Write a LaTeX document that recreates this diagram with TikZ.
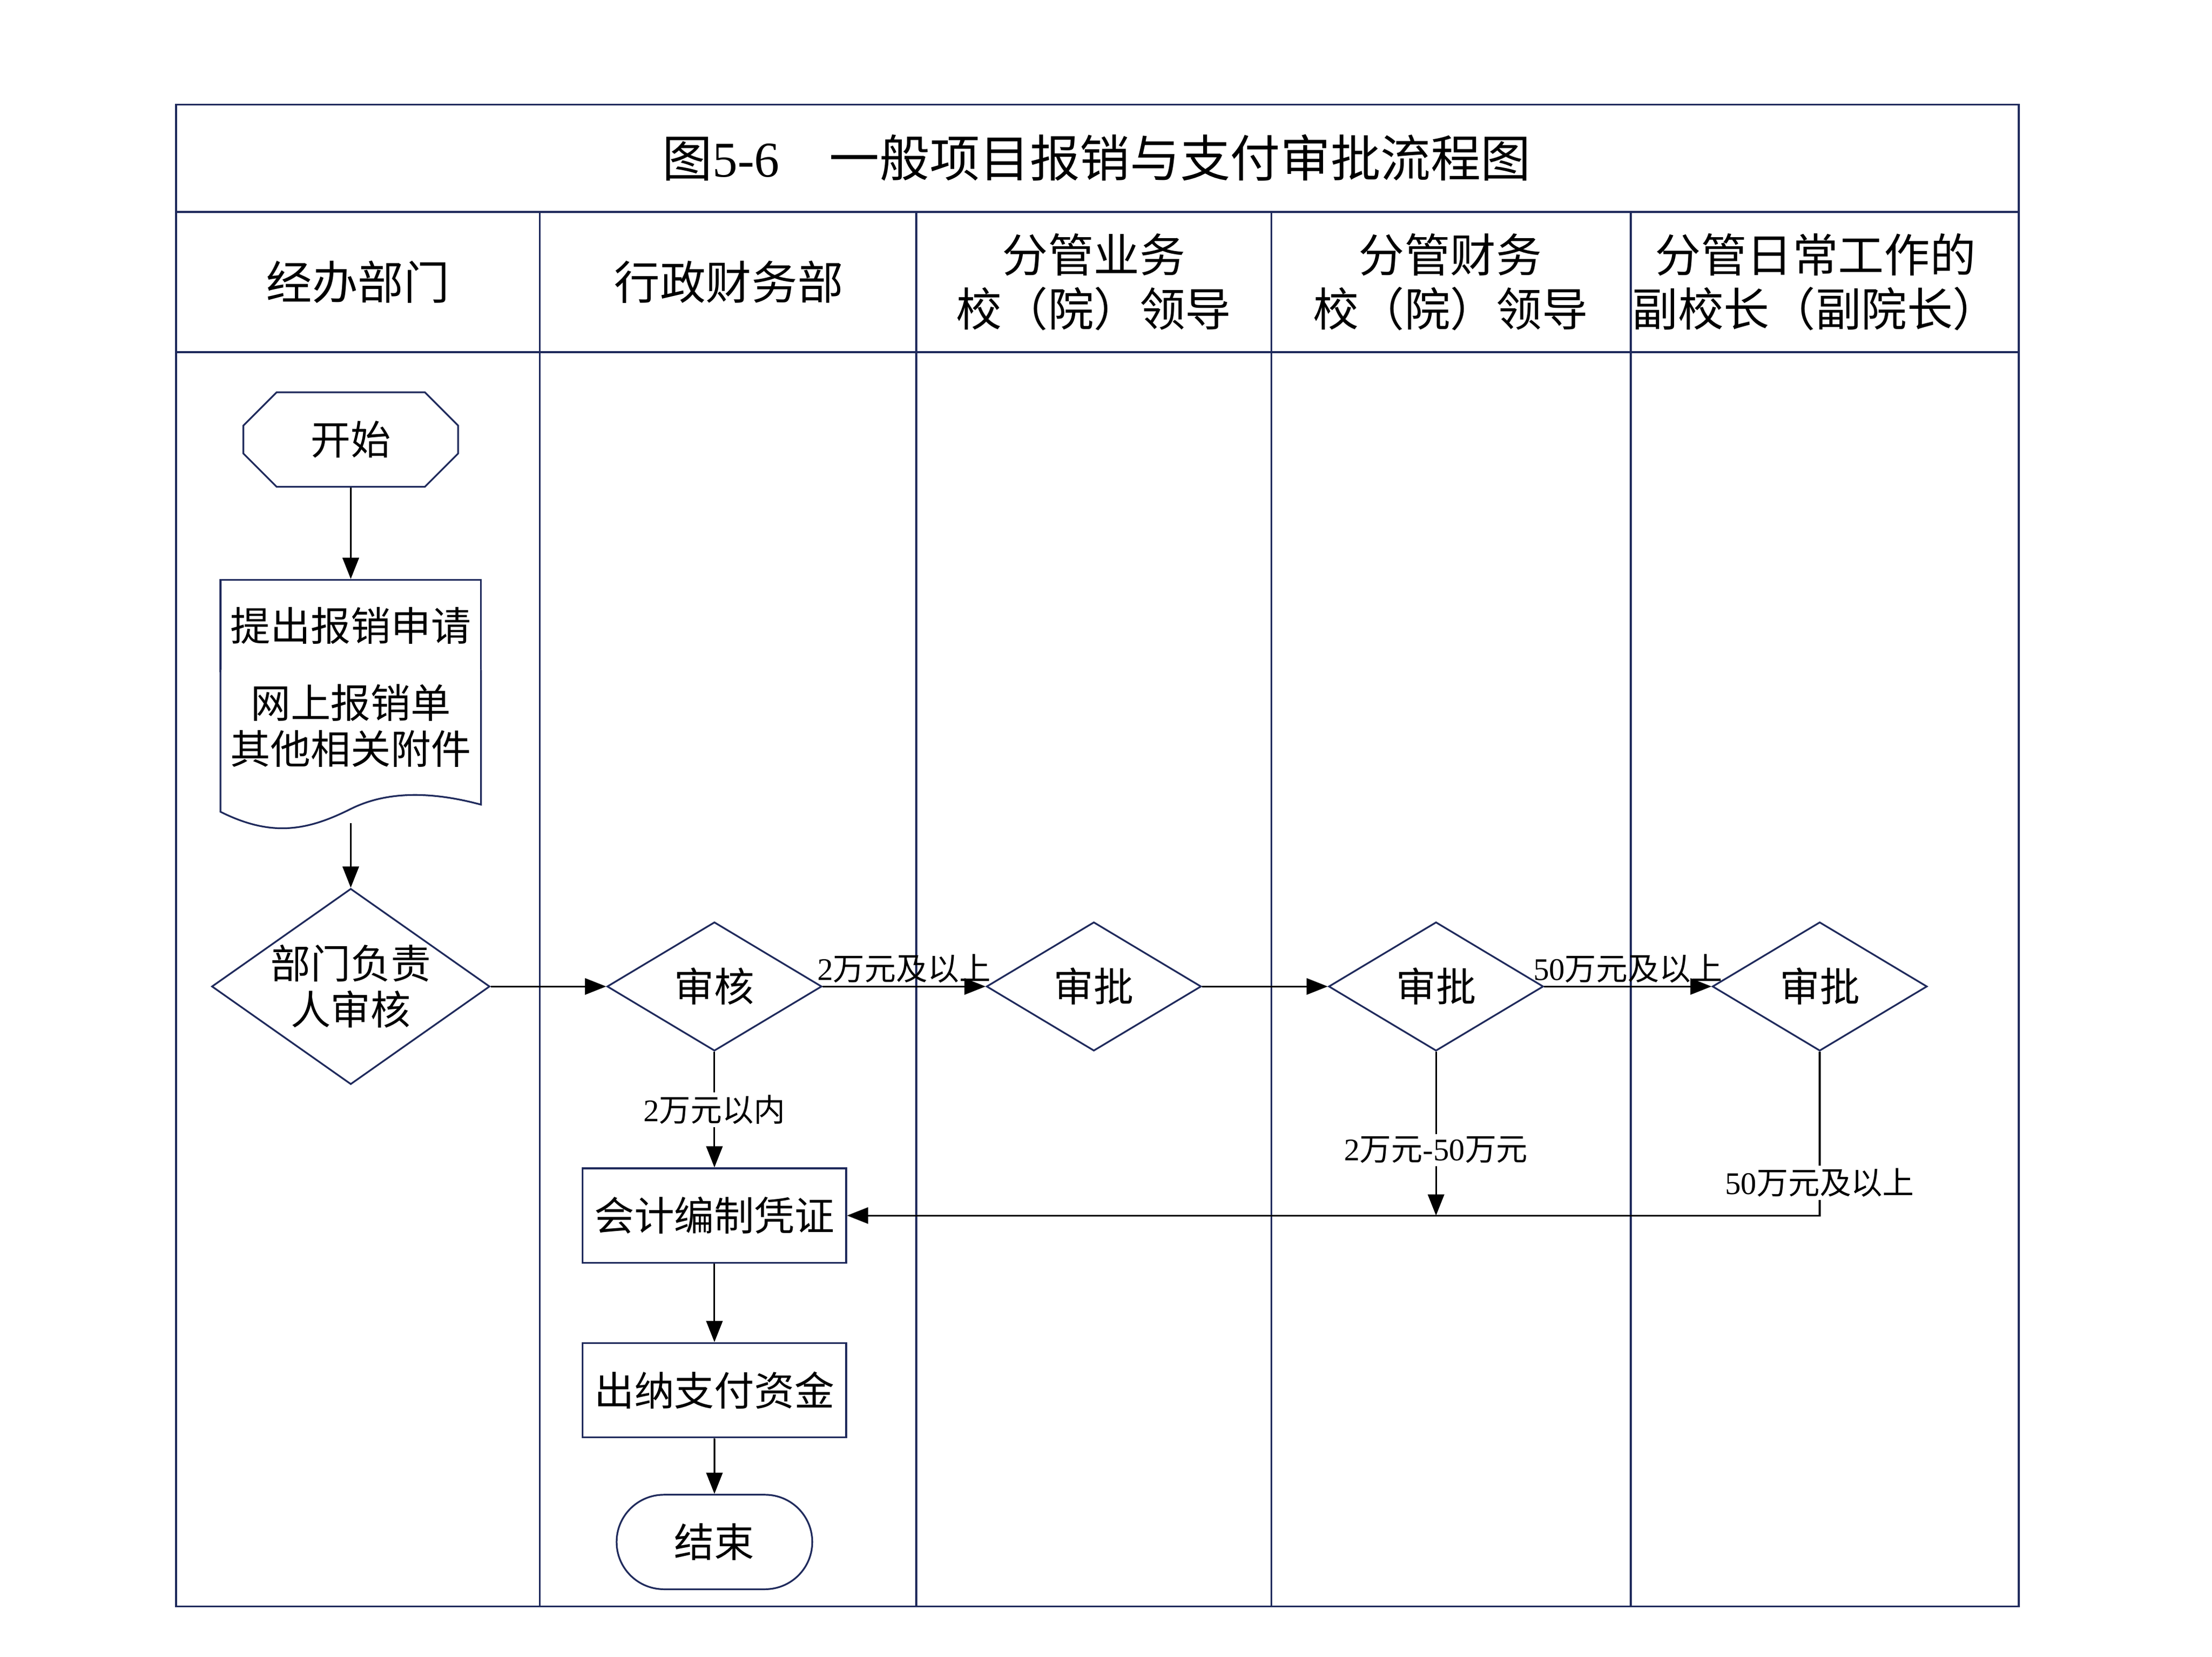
\documentclass[tikz,border=0pt]{standalone}
\usepackage{fontspec}
\setmainfont{Noto Sans CJK SC}
\newfontfamily\lat{Liberation Serif}
\usetikzlibrary{
  shapes.geometric,
  shapes.misc,
  arrows.meta,
  positioning,
}
\newcommand{\n}[1]{{\lat #1}}
\definecolor{navy}{HTML}{1F2A5C}
\tikzset{
  >={Triangle[length=2.6mm,width=2mm]},
  frame/.style={draw=navy,line width=0.6pt},
  flow/.style={draw=navy,line width=0.6pt,fill=white,font=\fontsize{14}{16}\selectfont},
  my box/.style={flow,rectangle,minimum width=92pt,minimum height=33pt,inner sep=1pt},
  my dec/.style={flow,diamond,aspect=1.67,minimum width=75pt,minimum height=45pt,inner sep=0pt},
  lbl/.style={fill=white,inner sep=1pt,font=\fontsize{11}{13}\selectfont},
  hd/.style={font=\fontsize{16}{19}\selectfont,align=center},
  conn/.style={->,line width=0.6pt}
}
\begin{document}
\begin{tikzpicture}[x=0.5pt,y=-0.5pt]
\useasboundingbox (0,0) rectangle (1545,1157);
% lanes
\draw[frame] (123,73) rectangle (1410,1122);
\draw[frame] (123,148) -- (1410,148) (123,246) -- (1410,246);
\foreach \x in {377,640,888,1139}
  \draw[frame] (\x,148) -- (\x,1122);
\node[font=\fontsize{17.5}{20}\selectfont] (title) at (766,110) {图\n{5-6}\quad 一般项目报销与支付审批流程图};
\node[hd] (h1) at (250,197) {经办部门};
\node[hd] (h2) at (509,197) {行政财务部};
\node[hd] (h3) at (764,197) {分管业务\\校（院）领导};
\node[hd] (h4) at (1013,197) {分管财务\\校（院）领导};
\node[hd] (h5) at (1268,197) {分管日常工作的\\副校长（副院长）};
% flow
\node[flow,regular polygon,regular polygon sides=6,shape border rotate=0,minimum width=0pt,
  chamfered rectangle,chamfered rectangle xsep=8pt,minimum width=75pt,minimum height=33pt] (start) at (245,307) {开始};
\node[flow,rectangle,minimum width=91pt,minimum height=32pt,inner sep=0pt] (req) at (245,437) {提出报销申请};
\draw[flow] (154,468) -- (154,567) .. controls (190,585) and (215,580) .. (245,565)
  .. controls (275,550) and (310,555) .. (336,562) -- (336,468);
\node[font=\fontsize{14}{16}\selectfont,align=center] (doc) at (245,507) {网上报销单\\其他相关附件};
\node[flow,diamond,aspect=1.42,minimum width=91pt,minimum height=64pt,inner sep=0pt,align=center] (dept) at (245,689) {部门负责\\人审核};
\node[my dec] (audit) at (499,689) {审核};
\node[my dec] (ok1) at (764,689) {审批};
\node[my dec] (ok2) at (1003,689) {审批};
\node[my dec] (ok3) at (1271,689) {审批};
\node[my box] (voucher) at (499,849) {会计编制凭证};
\node[my box] (pay) at (499,971) {出纳支付资金};
\node[flow,rounded rectangle,minimum width=75pt,minimum height=33pt] (end) at (499,1077) {结束};
\coordinate (join) at (1003,849);
% connectors
\draw[conn] (start) -- (req);
\draw[conn] (245,575) -- (dept);
\draw[conn] (dept) -- (audit);
\draw[conn] (audit) -- node[lbl,above,fill=none,pos=0.5] {\n{2}万元及以上} (ok1);
\draw[conn] (ok1) -- (ok2);
\draw[conn] (ok2) -- node[lbl,above,fill=none] {\n{50}万元及以上} (ok3);
\draw[conn] (audit) -- node[lbl] {\n{2}万元以内} (voucher);
\draw[conn] (ok2) -- node[lbl,pos=0.6] {\n{2}万元\n{-50}万元} (join);
\draw[conn] (ok3) |- node[lbl,pos=0.4] {\n{50}万元及以上} (voucher);
\draw[conn] (voucher) -- (pay);
\draw[conn] (pay) -- (end);
\end{tikzpicture}
\end{document}
